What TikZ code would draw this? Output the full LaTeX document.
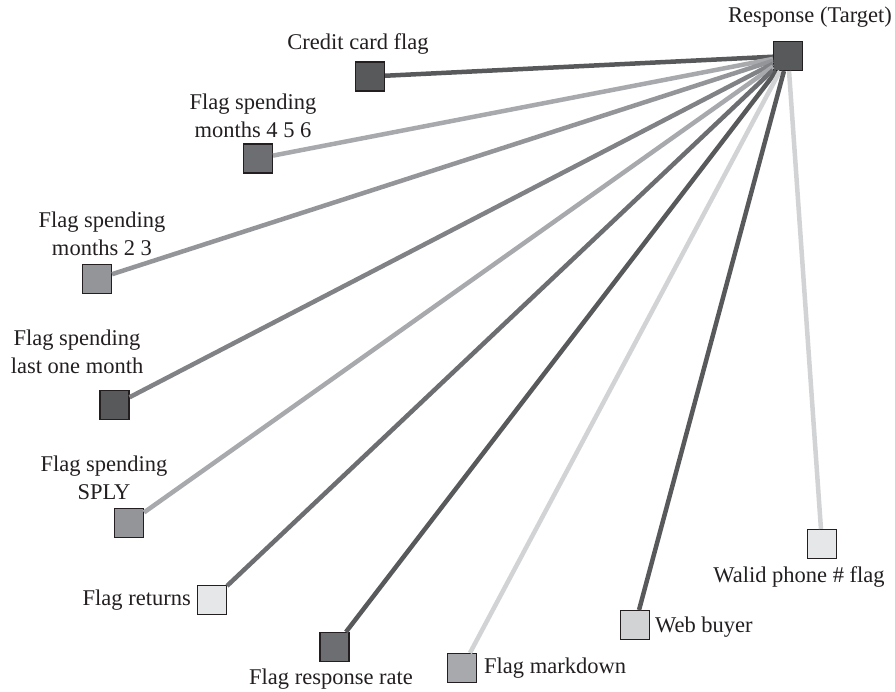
\documentclass[tikz,border=0pt]{standalone}
\usepackage{fontspec}
\setmainfont{Liberation Serif}
\definecolor{cdark}{HTML}{58595B}
\definecolor{cmid}{HTML}{6D6E71}
\definecolor{cgray}{HTML}{939598}
\definecolor{cgrayb}{HTML}{808285}
\definecolor{clight}{HTML}{A7A9AC}
\definecolor{cpale}{HTML}{D1D3D4}
\definecolor{cvpale}{HTML}{E6E7E8}
\definecolor{ctext}{HTML}{231F20}
\begin{document}
\begin{tikzpicture}[x=1pt,y=-1pt,
  sq/.style={draw=ctext, line width=1.1pt, minimum size=29pt, inner sep=0pt, fill=#1},
  lbl/.style={font=\fontsize{22.5}{28}\selectfont, text=ctext, inner sep=0pt, align=center},
  edge/.style={line width=4.5pt, draw=#1}]
\useasboundingbox (0,0) rectangle (895,692);
% squares
\node[sq=cdark] (t) at (788,56) {};
\node[sq=cdark] (cc) at (370,76.5) {};
\node[sq=cmid] (m456) at (258,158.5) {};
\node[sq=cgray] (m23) at (97,279) {};
\node[sq=cdark] (lom) at (114.5,405) {};
\node[sq=cgray] (sply) at (129,523) {};
\node[sq=cvpale] (ret) at (212,600) {};
\node[sq=cmid] (rr) at (334.5,647) {};
\node[sq=clight] (md) at (462,668) {};
\node[sq=cpale] (wb) at (635,625) {};
\node[sq=cvpale] (wp) at (822,544) {};
% labels
\node[lbl] (lt) at (810,17) {Response (Target)};
\node[lbl] (lcc) at (358,44) {Credit card flag};
\node[lbl] (lm456) at (253,116) {Flag spending\\months 4 5 6};
\node[lbl] (lm23) at (102,234) {Flag spending\\months 2 3};
\node[lbl] (llom) at (77,352) {Flag spending\\last one month};
\node[lbl] (lsply) at (104,478) {Flag spending\\SPLY};
\node[lbl, anchor=east] (lret) at (191,600) {Flag returns};
\node[lbl] (lrr) at (331,679) {Flag response rate};
\node[lbl, anchor=west] (lmd) at (484,668) {Flag markdown};
\node[lbl, anchor=west] (lwb) at (655,627) {Web buyer};
\node[lbl] (lwp) at (799,577) {Walid phone \# flag};
% edges
\draw[edge=cdark] (cc) -- (t);
\draw[edge=clight] (m456) -- (t);
\draw[edge=cgray] (m23) -- (t);
\draw[edge=cgrayb] (lom) -- (t);
\draw[edge=clight] (sply) -- (t);
\draw[edge=cmid] (ret) -- (t);
\draw[edge=cdark] (rr) -- (t);
\draw[edge=cpale] (md) -- (t);
\draw[edge=cdark] (wb) -- (t);
\draw[edge=cpale] (wp) -- (t);
\end{tikzpicture}
\end{document}
